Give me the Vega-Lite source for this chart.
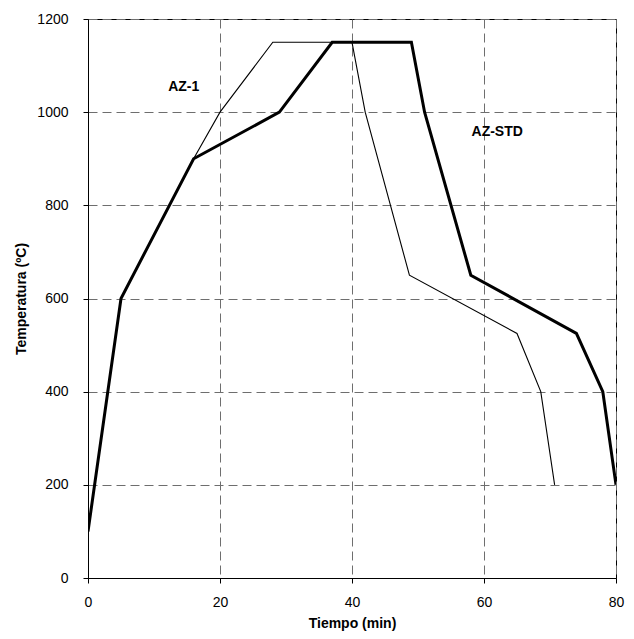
{
  "$schema": "https://vega.github.io/schema/vega-lite/v6.json",
  "width": 528,
  "height": 559,
  "autosize": "none",
  "padding": {"left": 88, "top": 19, "right": 18, "bottom": 61},
  "background": "white",
  "config": {
    "font": "Liberation Sans",
    "view": {"stroke": "black", "strokeWidth": 1},
    "axis": {
      "labelFont": "Liberation Sans",
      "titleFont": "Liberation Sans",
      "labelFontSize": 14,
      "titleFontSize": 14,
      "titleFontWeight": "bold",
      "labelColor": "black",
      "titleColor": "black",
      "domainColor": "black",
      "tickColor": "black",
      "tickSize": 5,
      "labelFlush": false,
      "gridColor": "#6e6e6e",
      "gridDash": [9, 5],
      "gridWidth": 1,
      "gridOpacity": 1
    }
  },
  "datasets": {
    "curves": [
      {"serie": "thin", "t": 0, "temp": 100, "o": 1},
      {"serie": "thin", "t": 5, "temp": 600, "o": 2},
      {"serie": "thin", "t": 16, "temp": 900, "o": 3},
      {"serie": "thin", "t": 20, "temp": 1000, "o": 4},
      {"serie": "thin", "t": 28, "temp": 1150, "o": 5},
      {"serie": "thin", "t": 40, "temp": 1150, "o": 6},
      {"serie": "thin", "t": 42, "temp": 1000, "o": 7},
      {"serie": "thin", "t": 48.7, "temp": 650, "o": 8},
      {"serie": "thin", "t": 65, "temp": 525, "o": 9},
      {"serie": "thin", "t": 68.6, "temp": 400, "o": 10},
      {"serie": "thin", "t": 70.7, "temp": 200, "o": 11},
      {"serie": "thick", "t": 0, "temp": 100, "o": 1},
      {"serie": "thick", "t": 5, "temp": 600, "o": 2},
      {"serie": "thick", "t": 16, "temp": 900, "o": 3},
      {"serie": "thick", "t": 29, "temp": 1000, "o": 4},
      {"serie": "thick", "t": 37, "temp": 1150, "o": 5},
      {"serie": "thick", "t": 49, "temp": 1150, "o": 6},
      {"serie": "thick", "t": 51, "temp": 1000, "o": 7},
      {"serie": "thick", "t": 58, "temp": 650, "o": 8},
      {"serie": "thick", "t": 74, "temp": 525, "o": 9},
      {"serie": "thick", "t": 78, "temp": 400, "o": 10},
      {"serie": "thick", "t": 80, "temp": 200, "o": 11}
    ],
    "labels": [
      {"t": 14.5, "temp": 1054, "txt": "AZ-1"},
      {"t": 62, "temp": 957, "txt": "AZ-STD"}
    ]
  },
  "layer": [
    {
      "data": {"name": "curves"},
      "mark": {"type": "line", "color": "black", "clip": true},
      "encoding": {
        "x": {
          "field": "t", "type": "quantitative",
          "scale": {"domain": [0, 80], "nice": false},
          "axis": {"values": [0, 20, 40, 60, 80], "format": "d", "title": "Tiempo (min)", "grid": true, "labelPadding": 12, "titlePadding": 7}
        },
        "y": {
          "field": "temp", "type": "quantitative",
          "scale": {"domain": [0, 1200], "nice": false},
          "axis": {"values": [0, 200, 400, 600, 800, 1000, 1200], "format": "d", "title": "Temperatura (ºC)", "grid": true, "labelPadding": 15, "titlePadding": 8}
        },
        "detail": {"field": "serie"},
        "order": {"field": "o", "type": "quantitative"},
        "strokeWidth": {
          "field": "serie", "type": "nominal",
          "scale": {"domain": ["thin", "thick"], "range": [1.1, 3]},
          "legend": null
        }
      }
    },
    {
      "data": {"name": "labels"},
      "mark": {"type": "text", "fontWeight": "bold", "fontSize": 14, "font": "Liberation Sans", "color": "black"},
      "encoding": {
        "x": {"field": "t", "type": "quantitative"},
        "y": {"field": "temp", "type": "quantitative"},
        "text": {"field": "txt"}
      }
    }
  ]
}
